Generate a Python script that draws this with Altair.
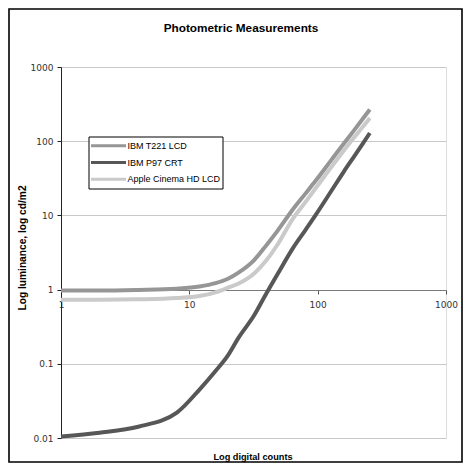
import altair as alt
import pandas as pd

# ---- data ----
series_names = ["IBM T221 LCD", "IBM P97 CRT", "Apple Cinema HD LCD"]
series_colors = ["#969696", "#575757", "#cacaca"]

digital_counts = [1, 2, 4, 8, 12, 16, 20, 24, 32, 40, 48, 64, 80, 96, 128, 160, 192, 224, 255]

ibm_t221 = [0.97, 0.97, 0.99, 1.03, 1.10, 1.22, 1.40, 1.68, 2.5, 4.0, 6.0, 12.0, 19.5, 29, 56, 93, 140, 199, 268]
ibm_p97 = [0.0105, 0.0118, 0.0142, 0.022, 0.045, 0.08, 0.13, 0.22, 0.45, 0.9, 1.55, 3.6, 6.3, 10.0, 21.5, 39, 62, 92, 129]
apple_hd = [0.73, 0.73, 0.74, 0.77, 0.82, 0.92, 1.06, 1.20, 1.65, 2.5, 3.9, 9.0, 15, 23, 45, 75, 112, 155, 206]

x_ticks = [1, 10, 100, 1000]
y_ticks = [0.01, 0.1, 1, 10, 100, 1000]

title_text = "Photometric Measurements"
x_title = "Log digital counts"
y_title = "Log luminance, log cd/m2"

# ---- tables ----
rows = []
for name, vals in zip(series_names, [ibm_t221, ibm_p97, apple_hd]):
    for xv, yv in zip(digital_counts, vals):
        rows.append({"series": name, "counts": xv, "lum": yv})
df = pd.DataFrame(rows)
legend_df = pd.DataFrame({"series": series_names, "idx": list(range(len(series_names)))})
one = pd.DataFrame({"a": [0]})

W, H = 385, 371
color_scale = alt.Scale(domain=series_names, range=series_colors)

border = alt.Chart(one).mark_rect(fill="transparent", stroke="#000000", strokeWidth=1.6).encode(
    x=alt.value(-52), x2=alt.value(W + 16), y=alt.value(-58), y2=alt.value(H + 24)
)

lines = alt.Chart(df).mark_line(strokeWidth=4, interpolate="monotone").encode(
    x=alt.X("counts:Q", scale=alt.Scale(type="log", domain=[1, 1000]),
            axis=alt.Axis(values=x_ticks, format="~g", title=None, offset=-148,
                          grid=False, domainColor="#7a7a7a", tickColor="#555555",
                          tickSize=4, labelPadding=6, labelFont="DejaVu Sans",
                          labelFontSize=9, labelColor="#333333", labelFlush=False)),
    y=alt.Y("lum:Q", scale=alt.Scale(type="log", domain=[0.01, 1000]),
            axis=alt.Axis(values=y_ticks, format="~g", title=None, grid=True,
                          gridColor="#c8c8c8", domainColor="#222222", tickColor="#222222",
                          tickSize=4, labelPadding=4, labelFont="DejaVu Sans",
                          labelFontSize=9, labelColor="#333333", labelFlush=False)),
    color=alt.Color("series:N", scale=color_scale, legend=None),
    detail="series:N",
)

leg_box = alt.Chart(one).mark_rect(fill="white", stroke="#000000", strokeWidth=1).encode(
    x=alt.value(28), x2=alt.value(162), y=alt.value(70), y2=alt.value(122)
)
leg_y = alt.Y("idx:O", scale=alt.Scale(type="point", range=[78.7, 112.3], padding=0), axis=None)
leg_lines = alt.Chart(legend_df).mark_rule(strokeWidth=3).encode(
    x=alt.value(30), x2=alt.value(65), y=leg_y,
    color=alt.Color("series:N", scale=color_scale, legend=None),
)
leg_text = alt.Chart(legend_df).mark_text(align="left", baseline="middle", font="Liberation Sans",
                                          fontSize=9, color="#000000").encode(
    x=alt.value(66.5), y=leg_y, text="series:N"
)

title_mark = alt.Chart(one).mark_text(text=title_text, font="Liberation Sans", fontWeight="bold",
                                      fontSize=11.8, align="center", baseline="middle",
                                      color="#000000").encode(
    x=alt.value(180), y=alt.value(-39)
)
xt_mark = alt.Chart(one).mark_text(text=x_title, font="Liberation Sans", fontWeight="bold",
                                   fontSize=9.2, align="center", baseline="middle",
                                   color="#000000").encode(
    x=alt.value(192), y=alt.value(390)
)
yt_mark = alt.Chart(one).mark_text(text=y_title, font="Liberation Sans", fontWeight="bold",
                                   fontSize=10.2, align="center", baseline="middle", angle=270,
                                   color="#000000").encode(
    x=alt.value(-38), y=alt.value(181)
)

chart = alt.layer(
    border, lines, leg_box, leg_lines, leg_text, title_mark, xt_mark, yt_mark
).resolve_scale(y="independent").properties(
    width=W, height=H,
    autosize=alt.AutoSizeParams(type="none"),
    padding={"left": 53, "top": 59, "right": 17, "bottom": 25},
).configure_view(stroke="#c8c8c8", strokeWidth=1).configure(background="white")

chart.save("out.html", embed_options={"renderer": "svg", "actions": False})
